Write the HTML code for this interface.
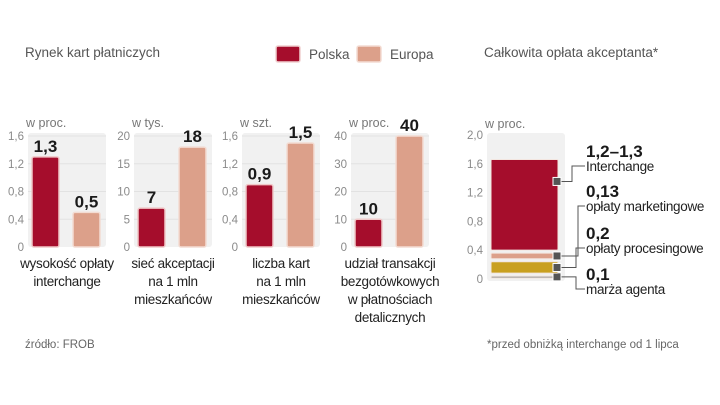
<!DOCTYPE html>
<html><head><meta charset="utf-8">
<style>
body{margin:0;background:#fff;}
svg{display:block;font-family:"Liberation Sans",sans-serif;}
.ax{fill:#8a8a8a;font-size:11.5px}
.unit{fill:#777;font-size:12.5px}
.val{fill:#1a1a1a;font-size:17px;font-weight:bold}
.cat{fill:#222;font-size:13.5px;letter-spacing:-0.3px}
.ttl{fill:#555;font-size:13.5px}
</style></head><body>
<svg id="c" width="720" height="405" viewBox="0 0 720 405" xmlns="http://www.w3.org/2000/svg">
<text x="25" y="57" class="ttl">Rynek kart płatniczych</text>
<rect x="276" y="46" width="24" height="16" fill="#a50d2c" stroke="#f0d0d0" stroke-width="1.5" rx="2"/>
<text x="309" y="59" class="ttl">Polska</text>
<rect x="357" y="46" width="24" height="16" fill="#dca08a" stroke="#f3dcd3" stroke-width="1.5" rx="2"/>
<text x="390" y="59" class="ttl">Europa</text>
<text x="484" y="57" class="ttl">Całkowita opłata akceptanta*</text>
<text x="25" y="348" class="ax" style="fill:#666">źródło: FROB</text>
<text x="487" y="348" class="ax" style="fill:#666">*przed obniżką interchange od 1 lipca</text>
<g id="g"></g>
</svg>
<script>
const panelUnits=["w proc.","w tys.","w szt.","w proc."];
const panelMax=[1.6,20,1.6,40];
const panelTicks=[["0","0,4","0,8","1,2","1,6"],["0","5","10","15","20"],["0","0,4","0,8","1,2","1,6"],["0","10","20","30","40"]];
const polskaValues=[1.3,7,0.9,10];
const europaValues=[0.5,18,1.5,40];
const valueLabelsPolska=["1,3","7","0,9","10"];
const valueLabelsEuropa=["0,5","18","1,5","40"];
const categoryLabels=[["wysokość opłaty","interchange"],["sieć akceptacji","na 1 mln","mieszkańców"],["liczba kart","na 1 mln","mieszkańców"],["udział transakcji","bezgotówkowych","w płatnościach","detalicznych"]];
const stackValues=[0.06,0.2,0.12,1.3];
const stackColors=["#9b9b9b","#c9a020","#dca08a","#a50d2c"];
const stackTicks=["0","0,4","0,8","1,2","1,6","2,0"];
const stackLabelsBold=["0,1","0,2","0,13","1,2–1,3"];
const stackLabelsText=["marża agenta","opłaty procesingowe","opłaty marketingowe","Interchange"];

const NS="http://www.w3.org/2000/svg";
const g=document.getElementById('g');
function mk(t,a,txt){const e=document.createElementNS(NS,t);for(const k in a)e.setAttribute(k,a[k]);if(txt!==undefined)e.textContent=txt;g.appendChild(e);return e;}
const panelX=[28,134,242,351];
const base=247, top0=136;
for(let p=0;p<4;p++){
  const x0=panelX[p], max=panelMax[p];
  const y=v=>base-(v/max)*(base-top0);
  let e=mk('rect',{x:x0,y:top0-3,width:78,height:base-top0+3,fill:'#f1f1f1',rx:3});
  
  
  panelTicks[p].forEach((t,i)=>{
    const v=max*i/(panelTicks[p].length-1);
    if(i>0){const l=mk('line',{x1:x0,x2:x0+78,y1:y(v),y2:y(v),stroke:'#e2e2e2','stroke-width':1});}
    const tx=mk('text',{x:x0-4,y:y(v)+4,class:'ax','text-anchor':'end'},t);
    
    
  });
  const u=mk('text',{x:x0-2,y:top0-9,class:'unit'},panelUnits[p]);
  
  
  const bars=[[polskaValues[p],valueLabelsPolska[p],'#a50d2c','#f0c8c8',x0+4],[europaValues[p],valueLabelsEuropa[p],'#dca08a','#f3dcd3',x0+45]];
  bars.forEach((b,j)=>{
    const r=mk('rect',{x:b[4],y:y(b[0]),width:27,height:base-y(b[0]),fill:b[2],stroke:b[3],'stroke-width':1.5,rx:2});
    
    
    const t=mk('text',{x:b[4]+13.5,y:y(b[0])-5,class:'val','text-anchor':'middle'},b[1]);
    
    
  });
  categoryLabels[p].forEach((s,i)=>{
    const t=mk('text',{x:x0+39,y:268+i*18,class:'cat','text-anchor':'middle'},s);
    
    
  });
}
// stacked
const sx=487, sBase=279, sTop=135, sMax=2.0;
const sy=v=>sBase-(v/sMax)*(sBase-sTop);
let bg=mk('rect',{x:sx,y:sTop-2,width:78,height:sBase-sTop+4,fill:'#f1f1f1',rx:3});


stackTicks.forEach((t,i)=>{
  const v=sMax*i/(stackTicks.length-1);
  const tx=mk('text',{x:sx-4,y:sy(v)+4,class:'ax','text-anchor':'end'},t);
  
  
});
const su=mk('text',{x:sx-2,y:sTop-7,class:'unit'},'w proc.');


let cum=0;
const labelY=[280,239,197,157];
const cornerX=[576,576,578,572];
stackValues.forEach((v,i)=>{
  const y1=sy(cum), y2=sy(cum+v);
  const r=mk('rect',{x:sx+4,y:y2+1.5,width:67,height:Math.max(2,y1-y2-3),fill:stackColors[i],stroke:'#f3e6e0','stroke-width':1,rx:1});
  
  
  const my=i===3?y2+(y1-y2)*0.25:(y1+y2)/2;
  const ly=labelY[i]+14;
  const kx=cornerX[i];
  const path=mk('polyline',{points:`${sx+70},${my} ${kx},${my} ${kx},${ly-5} ${585},${ly-5}`,fill:'none',stroke:'#555','stroke-width':1});
  
  
  const m=mk('rect',{x:sx+66,y:my-4,width:8,height:8,fill:'#555',stroke:'#fff','stroke-width':1});
  
  
  const b=mk('text',{x:586,y:labelY[i],class:'val','font-size':'16'},stackLabelsBold[i]);
  
  
  const t=mk('text',{x:586,y:ly,class:'cat','font-size':'13'},stackLabelsText[i]);
  
  
  cum+=v;
});
</script>
</body></html>
